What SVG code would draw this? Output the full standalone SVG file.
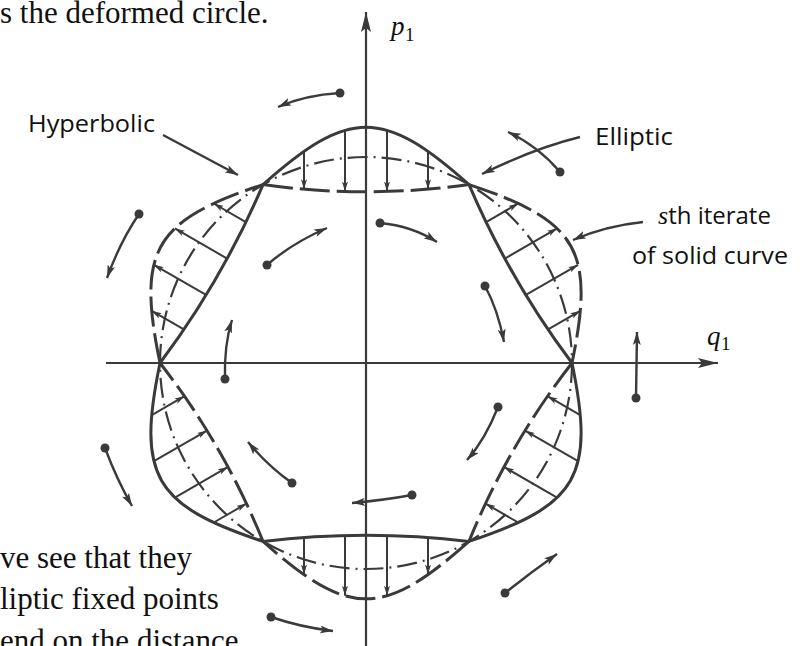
<svg xmlns="http://www.w3.org/2000/svg" xmlns:xlink="http://www.w3.org/1999/xlink" width="804" height="646" viewBox="0 0 804 646">
<defs>
<style>
.solid{stroke:#3a3a3a;fill:none;stroke-width:3;stroke-linecap:round}
.dash{stroke:#3a3a3a;fill:none;stroke-width:3;stroke-dasharray:30 7}
.circ{stroke:#3a3a3a;fill:none;stroke-width:2.2;stroke-dasharray:20 6 2 6}
.vec{stroke:#3a3a3a;fill:none;stroke-width:2;marker-end:url(#ah)}
.flow{stroke:#3a3a3a;fill:none;stroke-width:2.4;marker-end:url(#ah2)}
.dot{fill:#3a3a3a}
.axis{stroke:#3a3a3a;stroke-width:2.2;fill:none;marker-end:url(#ax)}
.lbl{font-family:"Open Sans","Liberation Sans",sans-serif;font-size:24px;fill:#111}
.serif{font-family:"Liberation Serif","Times New Roman",serif;font-size:31px;fill:#111}
.math{font-family:"Liberation Serif","Times New Roman",serif;fill:#111}
</style>
<marker id="ah" viewBox="0 0 10 6" refX="10" refY="3" markerWidth="10" markerHeight="6" markerUnits="userSpaceOnUse" orient="auto"><path d="M0,0 L10,3 L0,6 L2.5,3 Z" fill="#3a3a3a"/></marker>
<marker id="ah2" viewBox="0 0 13 8" refX="13" refY="4" markerWidth="13" markerHeight="8" markerUnits="userSpaceOnUse" orient="auto"><path d="M0,0 L13,4 L0,8 L3,4 Z" fill="#3a3a3a"/></marker>
<marker id="ax" viewBox="0 0 20 10" refX="20" refY="5" markerWidth="20" markerHeight="10" markerUnits="userSpaceOnUse" orient="auto"><path d="M0,0 L20,5 L0,10 L4,5 Z" fill="#3a3a3a"/></marker>
<g id="lobeA">
 <path class="solid" d="M-103,-178.4 C-17,-255 17,-255 103,-178.4"/>
 <path class="dash" d="M-103,-178.4 Q0,-164 103,-178.4"/>
 <path class="vec" d="M-62,-211.6 V-173.8"/>
 <path class="vec" d="M-21,-232.8 V-171.5"/>
 <path class="vec" d="M21,-232.8 V-171.5"/>
 <path class="vec" d="M62,-211.6 V-173.8"/>
</g>
<g id="lobeB">
 <path class="dash" d="M-103,-178.4 C-17,-255 17,-255 103,-178.4"/>
 <path class="solid" d="M-103,-178.4 Q0,-166 103,-178.4"/>
 <path class="vec" d="M-62,-174.5 V-211.6"/>
 <path class="vec" d="M-21,-172.5 V-232.8"/>
 <path class="vec" d="M21,-172.5 V-232.8"/>
 <path class="vec" d="M62,-174.5 V-211.6"/>
</g>
</defs>
<rect width="804" height="646" fill="#ffffff"/>

<g id="text-fragments">
 <text class="serif" x="0" y="23">s the deformed circle.</text>
 <text class="serif" x="0" y="568">ve see that they</text>
 <text class="serif" x="0" y="609">liptic fixed points</text>
 <text class="serif" x="0" y="651">end on the distance</text>
</g>

<g id="axes">
 <path class="axis" d="M366,646 V12"/>
 <path class="axis" d="M106,363 H718"/>
 <text class="math" x="391" y="35" font-size="27" font-style="italic">p</text>
 <text class="math" x="405" y="41" font-size="19">1</text>
 <text class="math" x="707" y="345" font-size="27" font-style="italic">q</text>
 <text class="math" x="721" y="350" font-size="19">1</text>
</g>

<g id="phase-portrait" transform="translate(366,363)">
 <circle id="unperturbed-circle" class="circ" cx="0" cy="0" r="206"/>
 <use id="lobe-top" xlink:href="#lobeA"/>
 <use id="lobe-upper-right" xlink:href="#lobeB" transform="rotate(60)"/>
 <use id="lobe-lower-right" xlink:href="#lobeA" transform="rotate(120)"/>
 <use id="lobe-bottom" xlink:href="#lobeB" transform="rotate(180)"/>
 <use id="lobe-lower-left" xlink:href="#lobeA" transform="rotate(240)"/>
 <use id="lobe-upper-left" xlink:href="#lobeB" transform="rotate(300)"/>
</g>

<g id="flow-arrows">
 <circle class="dot" cx="340" cy="93" r="4.5"/><path class="flow" d="M340,93 Q305,95 278,107"/>
 <circle class="dot" cx="560" cy="172" r="4.5"/><path class="flow" d="M560,172 Q538,146 508,132"/>
 <circle class="dot" cx="139" cy="214" r="4.5"/><path class="flow" d="M139,214 Q120,242 107,278"/>
 <circle class="dot" cx="267" cy="265" r="4.5"/><path class="flow" d="M267,265 Q292,243 327,228"/>
 <circle class="dot" cx="225" cy="379" r="4.5"/><path class="flow" d="M225,379 Q224,345 232,320"/>
 <circle class="dot" cx="380" cy="223" r="4.5"/><path class="flow" d="M380,223 Q412,226 437,242"/>
 <circle class="dot" cx="485" cy="286" r="4.5"/><path class="flow" d="M485,286 Q498,310 504,342"/>
 <circle class="dot" cx="636" cy="398" r="4.5"/><path class="flow" d="M636,398 L637,332"/>
 <circle class="dot" cx="498" cy="407" r="4.5"/><path class="flow" d="M498,407 Q485,440 467,460"/>
 <circle class="dot" cx="412" cy="495" r="4.5"/><path class="flow" d="M412,495 Q385,500 352,503"/>
 <circle class="dot" cx="292" cy="483" r="4.5"/><path class="flow" d="M292,483 Q268,466 248,442"/>
 <circle class="dot" cx="105" cy="448" r="4.5"/><path class="flow" d="M105,448 Q117,480 132,506"/>
 <circle class="dot" cx="271" cy="617" r="4.5"/><path class="flow" d="M271,617 Q300,627 333,631"/>
 <circle class="dot" cx="505" cy="593" r="4.5"/><path class="flow" d="M505,593 Q530,573 557,554"/>
</g>

<g id="labels">
 <g id="label-hyperbolic">
  <text class="lbl" x="28" y="132" textLength="127" lengthAdjust="spacingAndGlyphs">Hyperbolic</text>
  <path class="flow" d="M163,135 L238,175"/>
 </g>
 <g id="label-elliptic">
  <text class="lbl" x="595" y="145" textLength="78" lengthAdjust="spacingAndGlyphs">Elliptic</text>
  <path class="flow" d="M580,137 Q535,148 482,174"/>
 </g>
 <g id="label-iterate">
  <text class="lbl" x="658" y="224"><tspan class="math" font-style="italic" font-size="26">s</tspan><tspan>th iterate</tspan></text>
  <text class="lbl" x="632" y="264" textLength="156" lengthAdjust="spacingAndGlyphs">of solid curve</text>
  <path class="flow" d="M643,222 Q605,226 573,240"/>
 </g>
</g>
</svg>
